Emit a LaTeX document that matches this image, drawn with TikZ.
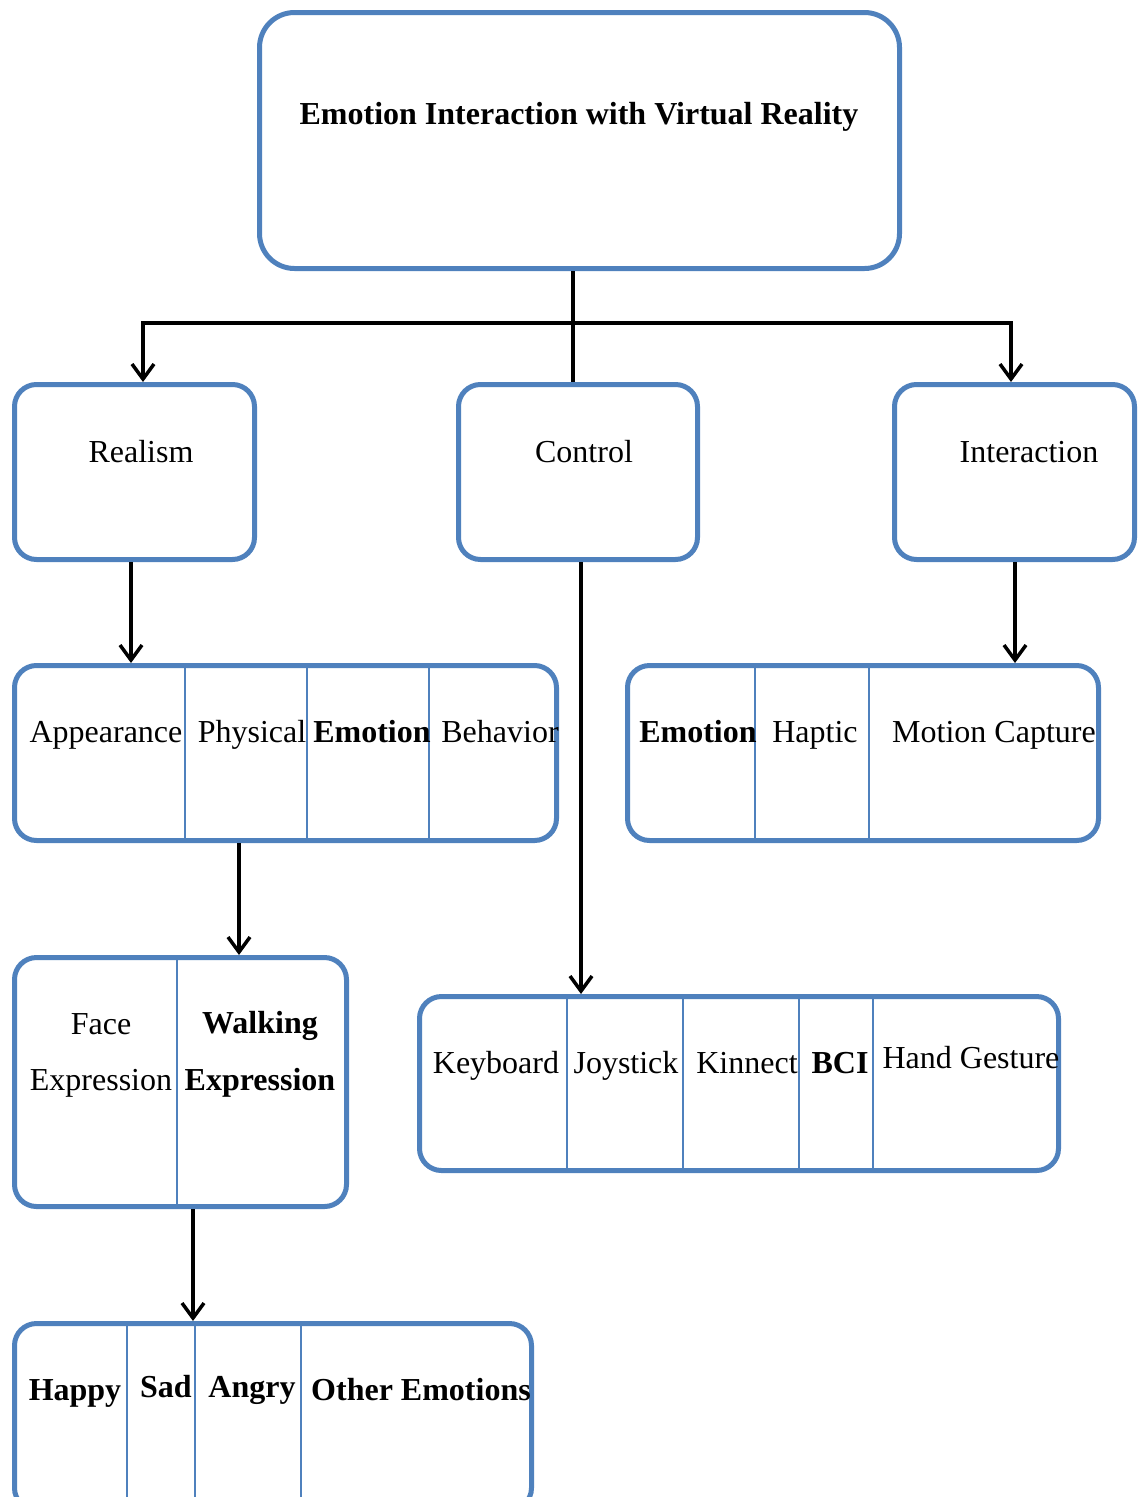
\documentclass[tikz,border=0pt]{standalone}
\usepackage{fontspec}
\setmainfont{Liberation Serif}
\usetikzlibrary{arrows.meta}
\definecolor{boxblue}{HTML}{4F81BD}
\begin{document}
\begin{tikzpicture}[x=1pt,y=-1pt,
  box/.style={draw=boxblue, line width=5pt, rounded corners=22pt, inner sep=0pt, fill=white},
  divider/.style={draw=boxblue, line width=2pt},
  conn/.style={draw=black, line width=3.5pt, line join=miter},
  arr/.style={conn, -{Straight Barb[length=15pt,width=22pt]}},
  lbl/.style={anchor=base, inner sep=0pt, font=\fontsize{32}{38}\selectfont},
  blbl/.style={anchor=base, inner sep=0pt, font=\fontsize{32}{38}\selectfont\bfseries}]
\useasboundingbox (0,0) rectangle (1142,1497);
\clip (0,0) rectangle (1142,1497);

% boxes
\node[box, rounded corners=35pt, minimum width=640pt, minimum height=256pt] (top) at (579.5,140.5) {};
\node[box, minimum width=240pt, minimum height=175pt] (realism) at (134.5,472) {};
\node[box, minimum width=239pt, minimum height=175pt] (control) at (578,472) {};
\node[box, minimum width=240pt, minimum height=175pt] (interaction) at (1014.5,472) {};
\node[box, minimum width=542pt, minimum height=175pt] (attrs) at (285.5,753) {};
\node[box, minimum width=471pt, minimum height=175pt] (inter) at (863,753) {};
\node[box, minimum width=639pt, minimum height=174pt] (devices) at (739,1083.5) {};
\node[box, minimum width=332pt, minimum height=249pt] (expr) at (180.5,1082) {};
\node[box, minimum width=517pt, minimum height=186.5pt] (emos) at (273,1416.75) {};

% dividers
\foreach \x in {185,307,429} \draw[divider] (\x,665.5) -- (\x,840.5);
\foreach \x in {755,869} \draw[divider] (\x,665.5) -- (\x,840.5);
\foreach \x in {567,683,799,873} \draw[divider] (\x,996.5) -- (\x,1170.5);
\draw[divider] (177,957.5) -- (177,1206.5);
\foreach \x in {127,195,301} \draw[divider] (\x,1323.5) -- (\x,1510);

% connector guide coordinates
\coordinate (hub) at (573,323);
\coordinate (hl) at (143,323);
\coordinate (hr) at (1011,323);
\coordinate (a1) at (131,0);
\coordinate (a2) at (1015,0);
\coordinate (a3) at (581,0);
\coordinate (a4) at (239,0);
\coordinate (a5) at (193,0);

% connectors
\draw[conn] (top.south -| hub) -- (control.north -| hub);
\draw[arr] (hub) -| (realism.north -| hl);
\draw[arr] (hub) -| (interaction.north -| hr);
\draw[arr] (realism.south -| a1) -- (attrs.north -| a1);
\draw[arr] (interaction.south -| a2) -- (inter.north -| a2);
\draw[arr] (control.south -| a3) -- (devices.north -| a3);
\draw[arr] (attrs.south -| a4) -- (expr.north -| a4);
\draw[arr] (expr.south -| a5) -- (emos.north -| a5);

% labels
\node[blbl] (tTitle) at (579,124) {Emotion Interaction with Virtual Reality};
\node[lbl] (tRealism) at (141,462) {Realism};
\node[lbl] (tControl) at (584,462) {Control};
\node[lbl] (tInteraction) at (1029,462) {Interaction};

\node[lbl] (tAppearance) at (106,742) {Appearance};
\node[lbl] (tPhysical) at (252,742) {Physical};
\node[blbl] (tEmotionA) at (372,742) {Emotion};
\node[lbl] (tBehavior) at (500,742) {Behavior};

\node[blbl] (tEmotionB) at (698,742) {Emotion};
\node[lbl] (tHaptic) at (815,742) {Haptic};
\node[lbl] (tMotion) at (994,742) {Motion Capture};

\node[lbl] (tKeyboard) at (496,1073) {Keyboard};
\node[lbl] (tJoystick) at (626,1073) {Joystick};
\node[lbl] (tKinnect) at (747,1073) {Kinnect};
\node[blbl] (tBCI) at (840,1073) {BCI};
\node[lbl] (tHand) at (971,1068) {Hand Gesture};

\node[lbl] (tFace) at (101,1034) {Face};
\node[lbl] (tFaceExpr) at (101,1090) {Expression};
\node[blbl] (tWalking) at (260,1033) {Walking};
\node[blbl] (tWalkExpr) at (260,1090) {Expression};

\node[blbl] (tHappy) at (75,1400) {Happy};
\node[blbl] (tSad) at (166,1397) {Sad};
\node[blbl] (tAngry) at (252,1397) {Angry};
\node[blbl] (tOther) at (421,1400) {Other Emotions};
\end{tikzpicture}
\end{document}
